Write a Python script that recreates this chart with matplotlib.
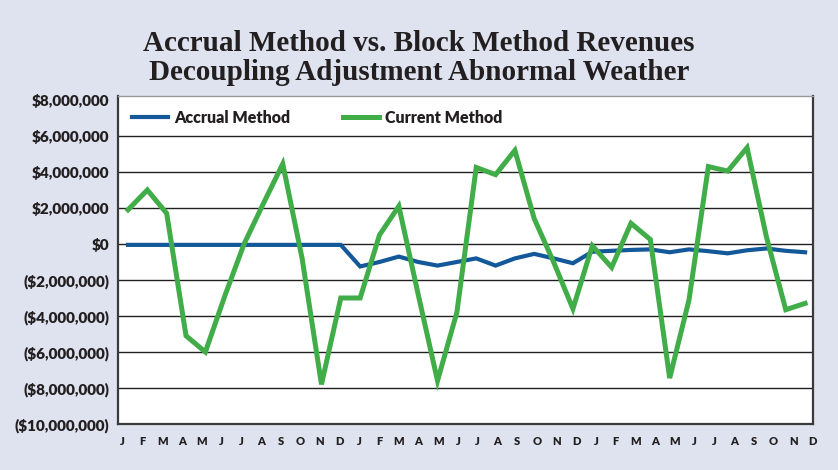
import numpy as np
import matplotlib.pyplot as plt

# months, three years
months = ['J', 'F', 'M', 'A', 'M', 'J', 'J', 'A', 'S', 'O', 'N', 'D'] * 3

# values in millions of dollars
accrual = [-0.05, -0.05, -0.05, -0.05, -0.05, -0.05, -0.05, -0.05, -0.05, -0.05, -0.05, -0.05,
           -1.25, -1.0, -0.7, -1.0, -1.2, -1.0, -0.8, -1.2, -0.8, -0.55, -0.8, -1.07,
           -0.43, -0.38, -0.33, -0.3, -0.46, -0.3, -0.4, -0.52, -0.35, -0.25, -0.38, -0.46]
current = [1.9, 3.0, 1.7, -5.1, -6.0, -2.9, 0.0, 2.25, 4.45, -0.8, -7.8, -3.0,
           -3.0, 0.5, 2.1, -2.8, -7.6, -3.8, 4.25, 3.85, 5.2, 1.4, -1.0, -3.6,
           -0.1, -1.3, 1.15, 0.25, -7.45, -3.1, 4.3, 4.05, 5.35, 0.4, -3.65, -3.3]

yticks = [-10, -8, -6, -4, -2, 0, 2, 4, 6, 8]
ytick_labels = ['($10,000,000)', '($8,000,000)', '($6,000,000)', '($4,000,000)',
                '($2,000,000)', '$0', '$2,000,000', '$4,000,000', '$6,000,000', '$8,000,000']

title = 'Accrual Method vs. Block Method Revenues\nDecoupling Adjustment Abnormal Weather'

bg = '#dfe3ef'
blue = '#13599a'
green = '#41ad49'
ink = '#231f20'
sans = {'family': 'Lato', 'weight': 'heavy'}

fig = plt.figure(figsize=(8.38, 4.70), dpi=100, facecolor=bg)
ax = fig.add_axes([0.1408, 0.0979, 0.8294, 0.6978])
ax.set_facecolor('white')

x = np.arange(len(current))
ax.plot(x, [v * 1e6 for v in accrual], color=blue, lw=3.0, label='Accrual Method',
        solid_joinstyle='miter', zorder=3)
ax.plot(x, [v * 1e6 for v in current], color=green, lw=3.6, label='Current Method',
        solid_joinstyle='miter', zorder=4)

ax.set_ylim(-10e6, 8.22e6)
ax.set_xlim(-0.517, 35.41)
ax.set_yticks([v * 1e6 for v in yticks])
ax.set_yticklabels(ytick_labels, fontsize=11, color=ink, **sans)
ax.tick_params(axis='y', length=0, pad=6)

# month labels sit on a slightly wider spacing than the data points
ax.set_xticks(np.linspace(-0.27, 35.4, len(months)))
ax.set_xticklabels(months, fontsize=8, color=ink, **sans)
ax.tick_params(axis='x', length=0, pad=8.5)

for v in yticks[1:-1]:
    ax.axhline(v * 1e6, color=ink, lw=1.0, zorder=1)

for side in ['left', 'bottom', 'right']:
    ax.spines[side].set_color('#3a3a3a')
    ax.spines[side].set_linewidth(1.6)
ax.spines['top'].set_color('#9a9a9a')
ax.spines['top'].set_linewidth(1.0)

leg = ax.legend(loc='upper left', ncol=2, frameon=False, handlelength=2.3,
                handletextpad=0.35, columnspacing=3.3, borderaxespad=0.45,
                prop={'family': 'Lato', 'weight': 'heavy', 'size': 11.5},
                bbox_to_anchor=(0.0, 1.0))
for t in leg.get_texts():
    t.set_color(ink)

fig.text(0.5, 0.877, title, ha='center', va='center', fontfamily='Liberation Serif',
         fontweight='bold', fontsize=21, linespacing=1.12, color=ink)

fig.savefig('out.png', dpi=100, facecolor=bg)
